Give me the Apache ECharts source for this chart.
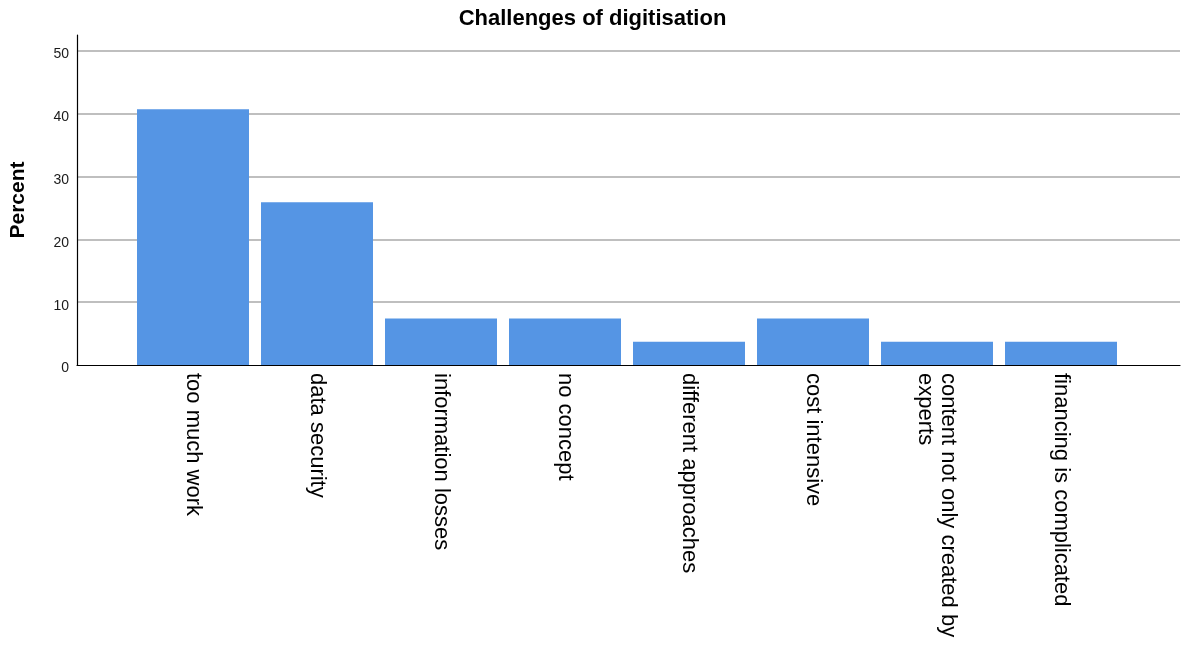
<!DOCTYPE html>
<html>
<head>
<meta charset="utf-8">
<script src="https://cdn.jsdelivr.net/npm/echarts@6/dist/echarts.min.js"></script>
<style>
html,body{margin:0;padding:0;background:#fff;}
#chart{width:1185px;height:650px;}
</style>
</head>
<body>
<div id="chart"></div>
<script>
const categories = [
  "too much work",
  "data security",
  "information losses",
  "no concept",
  "different approaches",
  "cost intensive",
  "content not only created by\nexperts",
  "financing is complicated"
];
const percentValues = [40.7, 25.9, 7.4, 7.4, 3.7, 7.4, 3.7, 3.7];
const yTickValues = [0, 10, 20, 30, 40, 50];

const FONT = "'Liberation Sans', Arial, Helvetica, sans-serif";
const chart = echarts.init(document.getElementById('chart'), null, {renderer: 'canvas'});

const option = {
  backgroundColor: '#ffffff',
  animation: false,
  title: {
    text: 'Challenges of digitisation',
    left: 'center',
    top: 3,
    textStyle: {fontFamily: FONT, fontSize: 22, fontWeight: 'bold', color: '#000'}
  },
  grid: [
    {left: 76, right: 5, top: 35, bottom: 285},
    {left: 131, right: 62, top: 35, bottom: 285}
  ],
  xAxis: [
    {
      type: 'value', gridIndex: 0, min: 0, max: 1,
      axisLine: {show: true, lineStyle: {color: '#000', width: 1.2}},
      axisTick: {show: false}, axisLabel: {show: false}, splitLine: {show: false}
    },
    {
      type: 'category', gridIndex: 1, data: categories,
      axisLine: {show: false}, axisTick: {show: false}, splitLine: {show: false},
      axisLabel: {
        rotate: -90, margin: 8, interval: 0,
        fontFamily: FONT, fontSize: 22, color: '#000', lineHeight: 23
      }
    }
  ],
  yAxis: [
    {
      type: 'value', gridIndex: 0, min: yTickValues[0], max: 52.5, interval: 10,
      name: 'Percent', nameLocation: 'middle', nameGap: 48,
      nameTextStyle: {fontFamily: FONT, fontSize: 21, fontWeight: 'bold', color: '#000'},
      axisLine: {show: true, lineStyle: {color: '#000', width: 1.2}},
      axisTick: {show: false},
      axisLabel: {
        showMaxLabel: false, margin: 8,
        fontFamily: FONT, fontSize: 14, color: '#1a1a1a',
        formatter: function (v) { return yTickValues.indexOf(v) >= 0 ? '{v|' + v + '}' : ''; },
        rich: {
          v: {fontFamily: FONT, fontSize: 14, color: '#1a1a1a', padding: [7, 0, 0, 0]}
        }
      },
      splitLine: {show: true, showMinLine: false, showMaxLine: false, lineStyle: {color: '#aaaaaa', width: 1.5}}
    },
    {
      type: 'value', gridIndex: 1, min: 0, max: 52.5, show: false,
      splitLine: {show: false}
    }
  ],
  series: [{
    type: 'bar',
    xAxisIndex: 1, yAxisIndex: 1,
    data: percentValues,
    barWidth: 112,
    itemStyle: {color: '#5595e4'},
    z: 5
  }]
};
chart.setOption(option);
</script>
</body>
</html>
